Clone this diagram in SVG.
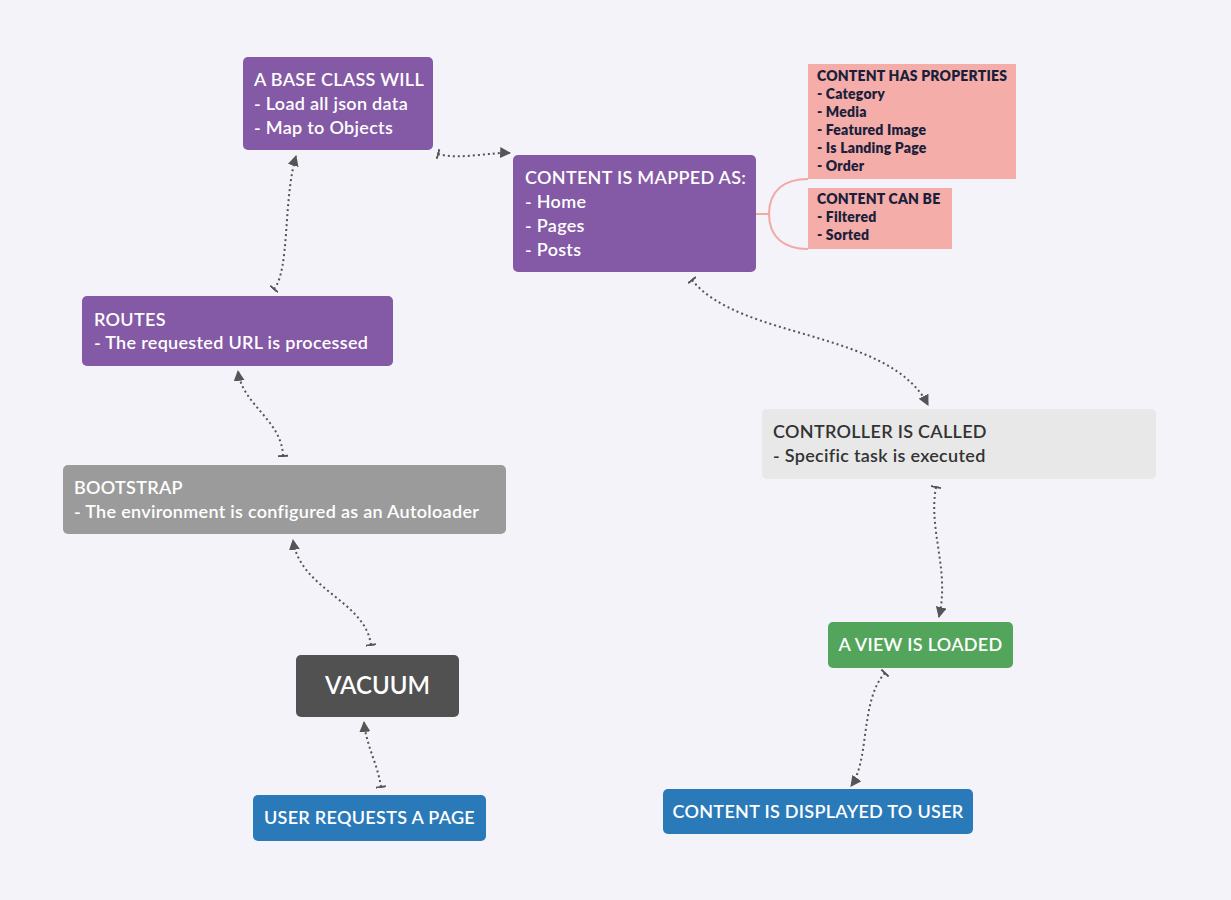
<svg xmlns="http://www.w3.org/2000/svg" width="1231" height="900" viewBox="0 0 1231 900">
<defs>
<style>
.t{font-family:Lato,"Open Sans","Liberation Sans",sans-serif;font-size:18px;letter-spacing:0.3px;fill:#fff;font-weight:600}
.c{text-anchor:middle}
.d{fill:#333}
.p{font-family:Lato,"Open Sans","Liberation Sans",sans-serif;font-size:14px;letter-spacing:0.2px;font-weight:800;fill:#1b1f3b}
.con{fill:none;stroke:#555;stroke-width:2;stroke-dasharray:2 3;marker-start:url(#bar);marker-end:url(#arr)}
.pk{fill:none;stroke:#f2a9a5;stroke-width:2}
</style>
<marker id="arr" viewBox="0 0 10 10" refX="9" refY="5" markerWidth="11" markerHeight="11" markerUnits="userSpaceOnUse" orient="auto"><path d="M0,0 L10,5 L0,10 Z" fill="#555"/></marker>
<marker id="bar" viewBox="0 0 4 10" refX="1" refY="5" markerWidth="4" markerHeight="10" markerUnits="userSpaceOnUse" orient="auto"><path d="M1,0 V10" stroke="#555" stroke-width="2"/></marker>
</defs>
<rect width="1231" height="900" fill="#f4f3f9"/>
<g id="connectors">
<path class="con" d="M381,787 C378,765 366,745 364,722"/>
<path class="con" d="M371,645 C365,600 300,590 293,540"/>
<path class="con" d="M283,456 C282,420 242,405 238,371"/>
<path class="con" d="M274,289 C290,270 283,200 296,156"/>
<path class="con" d="M438,154 C460,160 490,152 510,153"/>
<path class="con" d="M692,280 C740,340 890,330 928,405"/>
<path class="con" d="M936,487 C928,530 950,570 939,617"/>
<path class="con" d="M885,673 C860,700 870,760 851,786"/>
<path class="pk" d="M756,214 H769 M769,214 C769,190 785,179 808,179 M769,214 C769,238 785,249 808,249"/>
</g>
<g id="base-class">
<rect x="243" y="57" width="190" height="93" rx="5" fill="#8459a5"/>
<text class="t" x="254" y="86">A BASE CLASS WILL</text>
<text class="t" x="254" y="110">- Load all json data</text>
<text class="t" x="254" y="134">- Map to Objects</text>
</g>
<g id="content-mapped">
<rect x="513" y="155" width="243" height="117" rx="5" fill="#8459a5"/>
<text class="t" x="525" y="184">CONTENT IS MAPPED AS:</text>
<text class="t" x="525" y="208">- Home</text>
<text class="t" x="525" y="232">- Pages</text>
<text class="t" x="525" y="256">- Posts</text>
</g>
<g id="content-properties">
<rect x="808" y="64" width="208" height="115" fill="#f5ada9"/>
<text class="p" x="817" y="81">CONTENT HAS PROPERTIES</text>
<text class="p" x="817" y="99">- Category</text>
<text class="p" x="817" y="117">- Media</text>
<text class="p" x="817" y="135">- Featured Image</text>
<text class="p" x="817" y="153">- Is Landing Page</text>
<text class="p" x="817" y="171">- Order</text>
</g>
<g id="content-can-be">
<rect x="808" y="188" width="144" height="61" fill="#f5ada9"/>
<text class="p" x="817" y="204">CONTENT CAN BE</text>
<text class="p" x="817" y="222">- Filtered</text>
<text class="p" x="817" y="240">- Sorted</text>
</g>
<g id="routes">
<rect x="82" y="296" width="311" height="70" rx="5" fill="#8459a5"/>
<text class="t" x="94" y="326">ROUTES</text>
<text class="t" x="94" y="349">- The requested URL is processed</text>
</g>
<g id="bootstrap">
<rect x="63" y="465" width="443" height="69" rx="5" fill="#9b9b9b"/>
<text class="t" x="74" y="494">BOOTSTRAP</text>
<text class="t" x="74" y="518">- The environment is configured as an Autoloader</text>
</g>
<g id="vacuum">
<rect x="296" y="655" width="163" height="62" rx="5" fill="#515151"/>
<text class="t c" x="377.5" y="694" style="font-size:24px;letter-spacing:0">VACUUM</text>
</g>
<g id="user-requests">
<rect x="253" y="795" width="233" height="46" rx="5" fill="#2a7ab9"/>
<text class="t c" x="369.5" y="824">USER REQUESTS A PAGE</text>
</g>
<g id="controller">
<rect x="762" y="409" width="394" height="70" rx="5" fill="#e8e8e8"/>
<text class="t d" x="773" y="438">CONTROLLER IS CALLED</text>
<text class="t d" x="773" y="462">- Specific task is executed</text>
</g>
<g id="view-loaded">
<rect x="828" y="622" width="185" height="46" rx="5" fill="#52a55b"/>
<text class="t c" x="920.5" y="651">A VIEW IS LOADED</text>
</g>
<g id="content-displayed">
<rect x="663" y="789" width="310" height="45" rx="5" fill="#2a7ab9"/>
<text class="t c" x="818" y="818">CONTENT IS DISPLAYED TO USER</text>
</g>
</svg>
